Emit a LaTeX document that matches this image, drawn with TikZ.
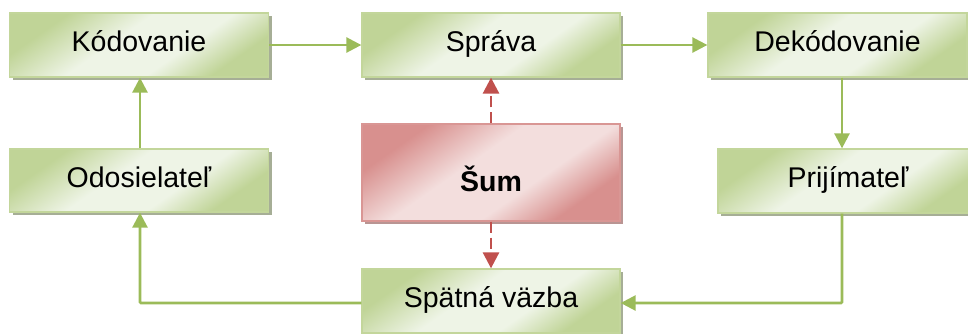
\documentclass[tikz,border=0pt]{standalone}
\usepackage{fontspec}
\setmainfont{Liberation Sans}
\usetikzlibrary{arrows.meta,shadows,calc}
\definecolor{gdark}{HTML}{C0D497}
\definecolor{glight}{HTML}{EEF4E6}
\definecolor{gborder}{HTML}{C3D69B}
\definecolor{gshadow}{HTML}{A6AE96}
\definecolor{gline}{HTML}{9BBB59}
\definecolor{rdark}{HTML}{D8908E}
\definecolor{rlight}{HTML}{F3DEDD}
\definecolor{rborder}{HTML}{D99694}
\definecolor{rshadow}{HTML}{B99593}
\definecolor{rline}{HTML}{C0504D}
\pgfdeclarehorizontalshading{gsh}{100bp}{color(0bp)=(gdark); color(27bp)=(gdark); color(44bp)=(glight); color(60bp)=(glight); color(73bp)=(gdark); color(100bp)=(gdark)}
\pgfdeclarehorizontalshading{rsh}{100bp}{color(0bp)=(rdark); color(27bp)=(rdark); color(44bp)=(rlight); color(60bp)=(rlight); color(73bp)=(rdark); color(100bp)=(rdark)}
\tikzset{
  gbox/.style={draw=gborder, line width=1.3pt, rectangle,
    shading=gsh, shading angle=-55,
    drop shadow={shadow xshift=3pt, shadow yshift=-3pt, fill=gshadow, opacity=1},
    minimum width=259pt, minimum height=64pt, inner sep=0pt,
    text height=20.5pt, text depth=7pt,
    font=\fontsize{28.5}{30}\selectfont, text=black},
  rbox/.style={gbox, draw=rborder, shading=rsh,
    drop shadow={shadow xshift=3pt, shadow yshift=-3pt, fill=rshadow, opacity=1},
    text height=44pt, text depth=7pt,
    font=\fontsize{28.5}{30}\selectfont\bfseries},
  garrow/.style={draw=gline, line width=2.6pt, -{Triangle[width=15pt,length=15pt]}},
  rarrow/.style={draw=rline, line width=2.7pt, dash pattern=on 11pt off 5pt,
    -{Triangle[width=16pt,length=16pt]}},
}
\begin{document}
\begin{tikzpicture}[x=1pt,y=-1pt]
\useasboundingbox (0,0) rectangle (968,333);
\node[gbox] (kod) at (139,45) {Kódovanie};
\node[gbox, minimum width=258pt] (spr) at (491,45) {Správa};
\node[gbox] (dek) at (837.5,45) {Dekódovanie};
\node[gbox, minimum height=63pt] (odo) at (139,180.5) {Odosielateľ};
\node[gbox, minimum width=260pt] (pri) at (848,181) {Prijímateľ};
\node[rbox, minimum width=258pt, minimum height=97pt] (sum) at (491,172.5) {Šum};
\node[gbox, minimum width=258pt] (spa) at (491,301) {Spätná väzba};
\coordinate (rx) at (842,0);
\coordinate (lx) at (140,0);
\coordinate (by) at (0,303);
\draw[garrow] (kod.east) -- (spr.west);
\draw[garrow] (spr.east) -- (dek.west);
\draw[garrow] (dek.south -| rx) -- (pri.north -| rx);
\draw[garrow, rounded corners=1pt] (pri.south -| rx) -- (rx |- by) -- (spa.east |- by);
\draw[garrow, rounded corners=1pt] (spa.west |- by) -- (lx |- by) -- (odo.south -| lx);
\draw[garrow] (odo.north -| lx) -- (kod.south -| lx);
\draw[rarrow] (sum.north) -- (spr.south);
\draw[rarrow] (sum.south) -- (spa.north);
\end{tikzpicture}
\end{document}
